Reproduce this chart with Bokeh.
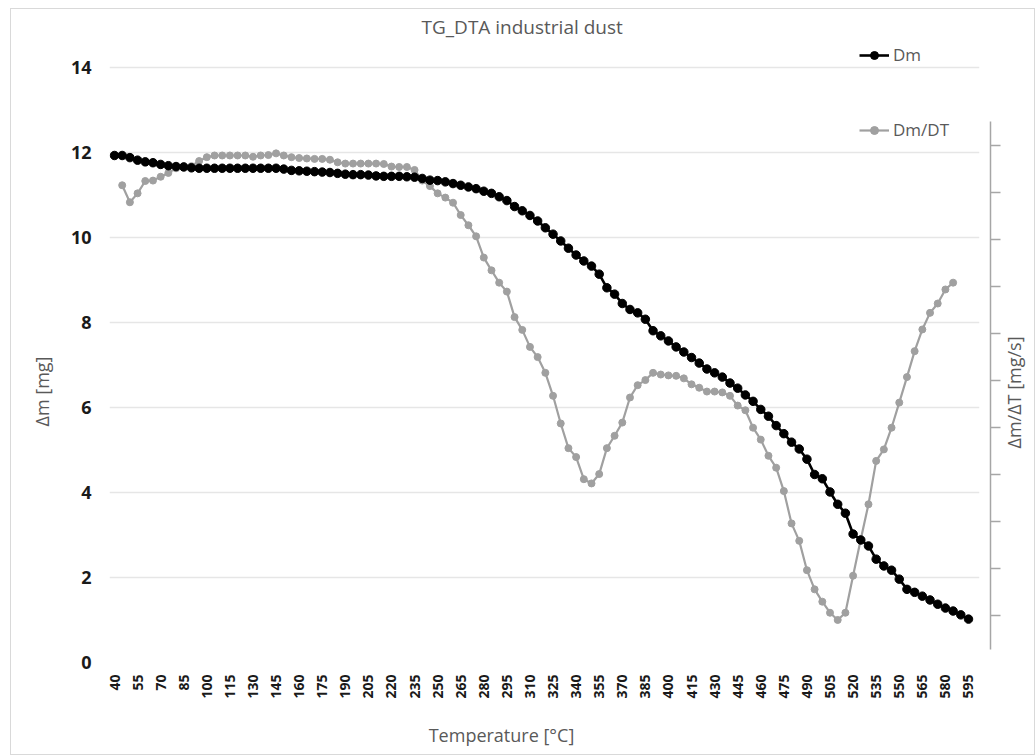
import math
from bokeh.plotting import figure
from bokeh.models import (Range1d, LinearAxis, FixedTicker, Legend, LegendItem,
                          Label, ColumnDataSource)
from bokeh.embed import file_html
from bokeh.resources import INLINE

# ---------------- data ----------------
temperature = list(range(40, 600, 5))          # category axis, 40 .. 595 °C
dm = [
    11.92, 11.92, 11.87, 11.81, 11.77, 11.75, 11.71, 11.68, 11.66, 11.65,
    11.63, 11.62, 11.62, 11.62, 11.62, 11.62, 11.62, 11.62, 11.62, 11.62,
    11.62, 11.62, 11.60, 11.57, 11.56, 11.55, 11.54, 11.53, 11.52, 11.50,
    11.48, 11.47, 11.47, 11.46, 11.44, 11.43, 11.43, 11.43, 11.42, 11.41,
    11.38, 11.34, 11.33, 11.30, 11.26, 11.22, 11.18, 11.14, 11.08, 11.03,
    10.95, 10.86, 10.72, 10.62, 10.51, 10.38, 10.22, 10.07, 9.91, 9.74,
    9.58, 9.44, 9.32, 9.13, 8.81, 8.66, 8.44, 8.30, 8.22, 8.07,
    7.80, 7.68, 7.56, 7.42, 7.30, 7.17, 7.04, 6.90, 6.81, 6.71,
    6.57, 6.45, 6.29, 6.14, 5.95, 5.79, 5.57, 5.38, 5.18, 5.02,
    4.78, 4.42, 4.32, 4.01, 3.72, 3.51, 3.02, 2.88, 2.74, 2.43,
    2.27, 2.17, 1.96, 1.72, 1.65, 1.56, 1.47, 1.37, 1.28, 1.21,
    1.12, 1.02,
]
dmdt_temperature = list(range(45, 590, 5))     # 45 .. 585 °C
dmdt = [
    11.22, 10.82, 11.03, 11.32, 11.33, 11.42, 11.51, 11.62, 11.67, 11.67,
    11.79, 11.88, 11.92, 11.92, 11.92, 11.92, 11.92, 11.89, 11.92, 11.93,
    11.97, 11.92, 11.88, 11.86, 11.85, 11.84, 11.84, 11.82, 11.76, 11.73,
    11.73, 11.73, 11.73, 11.73, 11.72, 11.66, 11.65, 11.65, 11.58,
    11.33, 11.20, 11.03, 10.93, 10.81, 10.52, 10.28, 10.02, 9.52, 9.22,
    8.93, 8.72, 8.12, 7.82, 7.42, 7.18, 6.81, 6.27, 5.62, 5.04,
    4.83, 4.31, 4.21, 4.43, 5.04, 5.33, 5.64, 6.23, 6.52, 6.64,
    6.81, 6.77, 6.75, 6.74, 6.68, 6.54, 6.46, 6.37, 6.37, 6.35,
    6.27, 6.04, 5.93, 5.52, 5.24, 4.86, 4.58, 4.03, 3.27, 2.86,
    2.17, 1.72, 1.43, 1.17, 1.00, 1.17, 2.04, 2.90, 3.72, 4.74,
    5.01, 5.52, 6.11, 6.71, 7.32, 7.83, 8.22, 8.44, 8.77, 8.93,
]
x_tick_values = temperature[::3]
y_tick_values = [0, 2, 4, 6, 8, 10, 12, 14]
right_tick_values = [1, 2, 3, 4, 5, 6, 7, 8, 9, 10, 11]

title_text = "TG_DTA industrial dust"
x_title = "Temperature [°C]"
y_title = "Δm [mg]"
y2_title = "Δm/ΔT [mg/s]"
series_names = ["Dm", "Dm/DT"]

# ---------------- layout constants ----------------
MX, MY = 10, 8                      # outer margin of the bordered chart box
W, H = 1035 - MX, 755 - MY
FL, FR, FT, FB = 108 - MX, 978 - MX, 40 - MY, 661 - MY
X0, X1 = 36.75, 602.15
Y0, Y1 = 0.0, 14.6
FONT = "Open Sans"
BLACK = "#000000"
GRAY = "#a0a0a0"
TXT = "#595959"


def dx(px):
    # page pixel -> data x
    return X0 + (px - MX - FL) * (X1 - X0) / (FR - FL)


def dy(py):
    # page pixel -> data y
    return Y1 - (py - MY - FT) * (Y1 - Y0) / (FB - FT)


p = figure(width=W, height=H, x_range=Range1d(X0, X1), y_range=Range1d(Y0, Y1),
           output_backend="svg", toolbar_location=None,
           min_border_left=FL, min_border_right=W - FR,
           min_border_top=FT, min_border_bottom=H - FB)
p.margin = (MY, 0, 0, MX)
p.styles = {"border": "1px solid #d9d9d9"}
p.outline_line_alpha = 0
p.background_fill_color = "white"
p.border_fill_color = "white"

# chart title
p.title.text = title_text
p.title.align = "left"
p.title.offset = 312
p.title.standoff = 4
p.title.text_font = FONT
p.title.text_font_size = "19px"
p.title.text_font_style = "normal"
p.title.text_color = TXT

# secondary range for the unlabeled right axis
p.extra_y_ranges = {"dt": Range1d(0, (FB - FT) / 47.0)}

# grid
p.xgrid.visible = False
p.ygrid.ticker = FixedTicker(ticks=y_tick_values)
p.ygrid.grid_line_color = "#e6e6e6"
p.ygrid.grid_line_width = 1.3

# left axis
ya = p.yaxis[0]
ya.ticker = FixedTicker(ticks=y_tick_values)
ya.axis_line_alpha = 0
ya.major_tick_line_alpha = 0
ya.minor_tick_line_alpha = 0
ya.major_tick_out = 0
ya.major_tick_in = 0
ya.major_label_standoff = 18
ya.major_label_text_font = FONT
ya.major_label_text_font_style = "bold"
ya.major_label_text_font_size = "18px"
ya.major_label_text_color = "#1a1a1a"

# bottom axis
xa = p.xaxis[0]
xa.ticker = FixedTicker(ticks=x_tick_values)
xa.axis_line_alpha = 0
xa.major_tick_line_alpha = 0
xa.minor_tick_line_alpha = 0
xa.major_tick_out = 0
xa.major_tick_in = 0
xa.major_label_standoff = 12
xa.major_label_orientation = math.pi / 2
xa.major_label_text_font = FONT
xa.major_label_text_font_style = "bold"
xa.major_label_text_font_size = "14px"
xa.major_label_text_color = "#1a1a1a"

# the secondary axis carries no tick labels in the reference
blank_labels = {t: "" for t in right_tick_values}

# spacer axis to push the secondary axis away from the frame
spacer = LinearAxis(y_range_name="dt", ticker=FixedTicker(ticks=right_tick_values),
                    axis_line_alpha=0, major_tick_line_alpha=0, minor_tick_line_alpha=0,
                    major_tick_out=11, major_tick_in=0, major_label_standoff=0,
                    major_label_overrides=blank_labels,
                    major_label_text_font_size="0px")
p.add_layout(spacer, "right")
right = LinearAxis(y_range_name="dt", ticker=FixedTicker(ticks=right_tick_values),
                   bounds=(0.28, 11.51),
                   axis_line_color="#a6a6a6", axis_line_width=1.5,
                   major_tick_line_color="#a6a6a6", major_tick_line_width=1.5,
                   major_tick_out=10, major_tick_in=0,
                   minor_tick_line_alpha=0, major_label_standoff=0,
                   major_label_overrides=blank_labels,
                   major_label_text_font_size="0px")
p.add_layout(right, "right")

# axis titles: labels placed in the side panels (not clipped to the frame)
def axis_title(text, px, py, angle):
    return Label(x=dx(px), y=dy(py), text=text, angle=angle,
                 text_align="center", text_baseline="middle",
                 text_font=FONT, text_font_size="18px", text_color=TXT)

p.add_layout(axis_title(x_title, 500, 733, 0), "below")
p.add_layout(axis_title(y_title, 40, 390, math.pi / 2), "left")
p.add_layout(axis_title(y2_title, 1012, 391, math.pi / 2), "right")

# series
src_dm = ColumnDataSource(dict(t=temperature, v=dm))
src_dt = ColumnDataSource(dict(t=dmdt_temperature, v=dmdt))

l2 = p.line("t", "v", source=src_dt, line_color=GRAY, line_width=2.2)
s2 = p.scatter("t", "v", source=src_dt, size=7, fill_color=GRAY, line_color=GRAY)
l1 = p.line("t", "v", source=src_dm, line_color=BLACK, line_width=2.6)
s1 = p.scatter("t", "v", source=src_dm, size=8.5, fill_color=BLACK, line_color=BLACK)

legend = Legend(items=[LegendItem(label=series_names[0], renderers=[l1, s1]),
                       LegendItem(label=series_names[1], renderers=[l2, s2])],
                location=(750, 521), orientation="vertical",
                glyph_width=30, glyph_height=20, label_height=20,
                label_standoff=4, spacing=52, padding=0, margin=0,
                border_line_alpha=0, background_fill_alpha=0,
                label_text_font=FONT, label_text_font_size="17px",
                label_text_color=TXT)
p.add_layout(legend)

open("out.html", "w").write(file_html(p, INLINE))
